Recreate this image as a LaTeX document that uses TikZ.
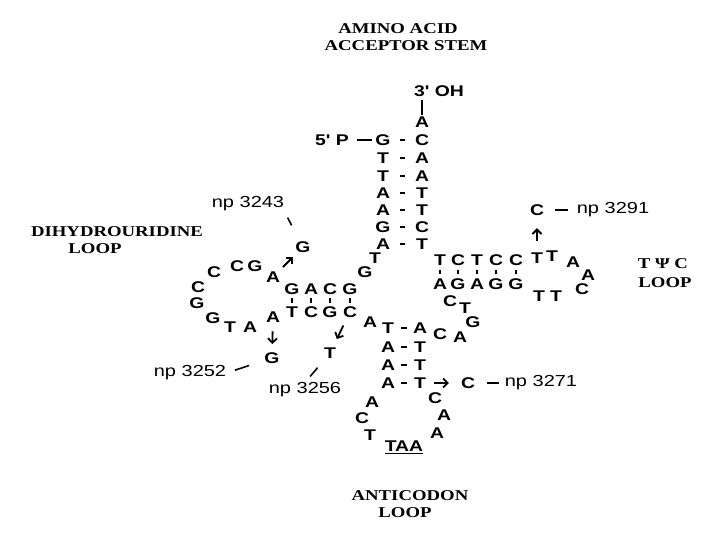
\documentclass[tikz,border=0pt]{standalone}
\usepackage{fontspec}
\setmainfont{Liberation Serif}[FakeStretch=1.25]
\newfontfamily\basefont{Liberation Sans}[FakeStretch=1.25]
\usetikzlibrary{arrows.meta, calc}
\tikzset{
    nt/.style={inner sep=0pt, font=\basefont\bfseries\fontsize{15.5}{15.5}\selectfont},
    nplabel/.style={inner sep=0pt, font=\basefont\fontsize{16}{16}\selectfont},
    looptitle/.style={inner sep=0pt, font=\bfseries\fontsize{15}{15}\selectfont},
    pairbar/.style={line width=1.8pt},
    tick/.style={line width=1.6pt},
    arrow/.style={-{Straight Barb[length=4.5pt, width=9pt, line width=1.8pt]}, line width=1.8pt}
}

\begin{document}
\begin{tikzpicture}[x=1pt, y=-1pt]
    \useasboundingbox (0,0) rectangle (720,540);

    % titles
    \node[looptitle] (amino) at (398,29) {AMINO ACID};
    \node[looptitle] (acceptor) at (406,46) {ACCEPTOR STEM};
    \node[looptitle] (dhu) at (117,232) {DIHYDROURIDINE};
    \node[looptitle] (dhuloop) at (95,249) {LOOP};
    \node[looptitle] (tpsic) at (663,264) {T Ψ C};
    \node[looptitle] (tpsicloop) at (665,283) {LOOP};
    \node[looptitle] (anticodon) at (410,496) {ANTICODON};
    \node[looptitle] (anticodonloop) at (405,513) {LOOP};

    % acceptor stem
    \node[nt] (oh) at (439,91) {3' OH};
    \node[nt] (b0) at (422,122) {A};
    \foreach \n/\l/\r/\y in {1/G/C/140, 2/T/A/158, 3/T/A/176, 4/A/T/193, 5/A/T/210, 6/G/C/227, 7/A/T/244} {
        \node[nt] (a\n) at (383,\y) {\l};
        \node[nt] (b\n) at (422,\y) {\r};
        \draw[pairbar] ($(a\n)!.43!(b\n)$) -- ($(a\n)!.57!(b\n)$);
    }
    \node[nt] (p5) at (332,140) {5' P};
    \draw[tick, shorten <=8pt, shorten >=3pt] (p5) -- (a1);
    \draw[tick, shorten <=1pt, shorten >=3pt] (b0.north) -- (b0.north |- oh.south);

    \node[nt] (jt) at (375,258) {T};
    \node[nt] (jg) at (365,272) {G};

    % D stem and loop
    \foreach \n/\u/\l/\x in {1/G/T/292, 2/A/C/311, 3/C/G/330, 4/G/C/350} {
        \node[nt] (d\n) at (\x,289) {\u};
        \node[nt] (e\n) at (\x,312) {\l};
        \draw[pairbar] ($(d\n)!.4!(e\n)$) -- ($(d\n)!.6!(e\n)$);
    }
    \node[nt] (ja) at (370,322) {A};
    \node[nt] (la1) at (273,277) {A};
    \node[nt] (lg1) at (255,266) {G};
    \node[nt] (lc1) at (237,266) {C};
    \node[nt] (lc2) at (214,272) {C};
    \node[nt] (lc3) at (198,287) {C};
    \node[nt] (lg2) at (197,303) {G};
    \node[nt] (lg3) at (213,318) {G};
    \node[nt] (lt1) at (230,327) {T};
    \node[nt] (la2) at (250,327) {A};
    \node[nt] (la3) at (273,317) {A};

    \node[nt] (g3243) at (303,247) {G};
    \node[nplabel] (n3243) at (248,204) {np 3243};
    \draw[arrow] ($(la1)!.33!(g3243)$) -- ($(la1)!.66!(g3243)$);
    \draw[tick, shorten <=7pt, shorten >=18pt] (n3243.south east) -- (g3243);

    \node[nt] (g3252) at (272,358) {G};
    \node[nplabel] (n3252) at (190,373) {np 3252};
    \draw[arrow] ($(la3)!.35!(g3252)$) -- ($(la3)!.66!(g3252)$);
    \draw[tick, shorten <=9pt, shorten >=16pt] (n3252.east) -- (g3252);

    \node[nt] (t3256) at (330,353) {T};
    \node[nplabel] (n3256) at (305,390) {np 3256};
    \draw[arrow] ($(e4)!.33!(t3256)$) -- ($(e4)!.66!(t3256)$);
    \draw[tick, shorten <=8pt, shorten >=12pt] (n3256.north) -- (t3256);

    % anticodon stem and loop
    \foreach \n/\l/\r/\y in {1/T/A/328, 2/A/T/347, 3/A/T/365, 4/A/T/383} {
        \node[nt] (s\n) at (388,\y) {\l};
        \node[nt] (r\n) at (420,\y) {\r};
        \draw[pairbar] ($(s\n)!.42!(r\n)$) -- ($(s\n)!.58!(r\n)$);
    }
    \node[nt] (ka1) at (372,402) {A};
    \node[nt] (kc1) at (362,418) {C};
    \node[nt] (kt1) at (370,435) {T};
    \node[nt] (codon) at (404,447) {\underline{TAA}};
    \node[nt] (ka2) at (437,433) {A};
    \node[nt] (ka3) at (444,415) {A};
    \node[nt] (kc2) at (435,398) {C};

    \node[nt] (c3271) at (468,383) {C};
    \node[nplabel] (n3271) at (541,383) {np 3271};
    \draw[arrow] ($(r4)!.3!(c3271)$) -- ($(r4)!.6!(c3271)$);
    \draw[tick, shorten <=12pt, shorten >=6pt] (c3271) -- (n3271);

    % variable loop
    \node[nt] (vc1) at (440,334) {C};
    \node[nt] (va1) at (460,337) {A};
    \node[nt] (vg1) at (473,322) {G};
    \node[nt] (vt1) at (465,308) {T};
    \node[nt] (vc2) at (450,301) {C};

    % T stem and loop
    \foreach \n/\u/\l/\x in {1/T/A/440, 2/C/G/458, 3/T/A/477, 4/C/G/496, 5/C/G/516} {
        \node[nt] (t\n) at (\x,260) {\u};
        \node[nt] (u\n) at (\x,284) {\l};
        \draw[pairbar] ($(t\n)!.4!(u\n)$) -- ($(t\n)!.6!(u\n)$);
    }
    \node[nt] (mt1) at (537,258) {T};
    \node[nt] (mt2) at (552,256) {T};
    \node[nt] (ma1) at (573,262) {A};
    \node[nt] (ma2) at (588,275) {A};
    \node[nt] (mc1) at (582,289) {C};
    \node[nt] (mt3) at (556,296) {T};
    \node[nt] (mt4) at (539,296) {T};

    \node[nt] (c3291) at (537,210) {C};
    \node[nplabel] (n3291) at (613,210) {np 3291};
    \draw[arrow] ($(mt1)!.35!(c3291)$) -- ($(mt1)!.62!(c3291)$);
    \draw[tick, shorten <=11pt, shorten >=9pt] (c3291) -- (n3291);
\end{tikzpicture}
\end{document}
